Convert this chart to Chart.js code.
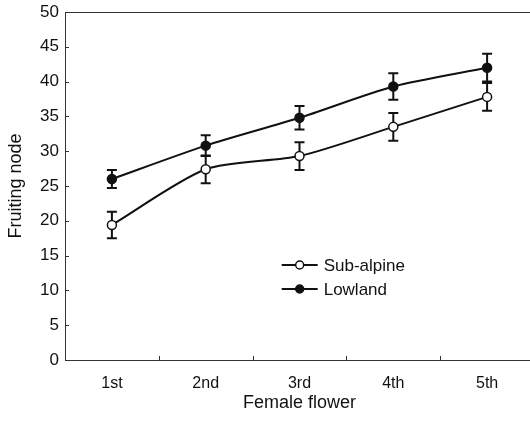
<!DOCTYPE html>
<html>
<head>
<meta charset="utf-8">
<script src="https://cdn.jsdelivr.net/npm/chart.js@4"></script>
<style>
html,body{margin:0;padding:0;background:#fff;overflow:hidden;}
#wrap{width:540px;height:422px;position:relative;}
</style>
</head>
<body>
<div id="wrap"><canvas id="c"></canvas></div>
<script>
const categories = ['1st', '2nd', '3rd', '4th', '5th'];
const subAlpine = [19.4, 27.4, 29.3, 33.5, 37.8];
const subAlpineErr = [1.9, 2.0, 2.0, 2.0, 2.0];
const lowland = [26.0, 30.8, 34.8, 39.3, 42.0];
const lowlandErr = [1.3, 1.5, 1.7, 1.9, 2.0];
const seriesNames = ['Sub-alpine', 'Lowland'];
const yMin = 0, yMax = 50, yStep = 5;
const xTitle = 'Female flower';
const yTitle = 'Fruiting node';

const FONT = '"Liberation Sans", Arial, sans-serif';
const INK = '#111';

const errorBars = {
  id: 'errorBars',
  beforeDatasetsDraw(chart) {
    const ctx = chart.ctx;
    const y = chart.scales.y;
    ctx.save();
    ctx.strokeStyle = INK;
    ctx.lineWidth = 2;
    chart.data.datasets.forEach((ds, di) => {
      const meta = chart.getDatasetMeta(di);
      meta.data.forEach((pt, i) => {
        const v = ds.data[i], e = ds.errors[i];
        const yt = y.getPixelForValue(v + e), yb = y.getPixelForValue(v - e);
        const x = pt.x, cw = 5;
        ctx.beginPath();
        ctx.moveTo(x, yt); ctx.lineTo(x, yb);
        ctx.moveTo(x - cw, yt); ctx.lineTo(x + cw, yt);
        ctx.moveTo(x - cw, yb); ctx.lineTo(x + cw, yb);
        ctx.stroke();
      });
    });
    ctx.restore();
  }
};

const frame = {
  id: 'frame',
  afterDraw(chart) {
    const ctx = chart.ctx, a = chart.chartArea;
    const y = chart.scales.y, x = chart.scales.x;
    ctx.save();
    ctx.strokeStyle = '#333';
    ctx.lineWidth = 1;
    ctx.beginPath();
    ctx.moveTo(a.left, a.top + 0.5); ctx.lineTo(a.right, a.top + 0.5);
    y.ticks.forEach(t => {
      const py = Math.round(y.getPixelForValue(t.value)) + 0.5;
      ctx.moveTo(a.left, py); ctx.lineTo(a.left + 4, py);
    });
    for (let i = 0; i < categories.length - 1; i++) {
      const px = Math.round((x.getPixelForValue(i) + x.getPixelForValue(i + 1)) / 2) + 0.5;
      ctx.moveTo(px, a.bottom); ctx.lineTo(px, a.bottom - 4);
    }
    ctx.stroke();

    const lx = a.left + 0.462 * (a.right - a.left);
    chart.data.datasets.forEach((ds, di) => {
      const ly = a.top + (0.727 + 0.069 * di) * (a.bottom - a.top);
      ctx.strokeStyle = INK;
      ctx.lineWidth = 2;
      ctx.beginPath();
      ctx.moveTo(lx, ly); ctx.lineTo(lx + 36, ly);
      ctx.stroke();
      ctx.beginPath();
      ctx.arc(lx + 18, ly, 4, 0, Math.PI * 2);
      ctx.fillStyle = ds.pointBackgroundColor;
      ctx.fill();
      ctx.lineWidth = 1.5;
      ctx.stroke();
      ctx.fillStyle = INK;
      ctx.font = '17px ' + FONT;
      ctx.textBaseline = 'middle';
      ctx.textAlign = 'left';
      ctx.fillText(ds.label, lx + 42, ly + 1);
    });
    ctx.restore();
  }
};

new Chart(document.getElementById('c'), {
  type: 'line',
  data: {
    labels: categories,
    datasets: [
      {
        label: seriesNames[0], data: subAlpine, errors: subAlpineErr,
        borderColor: INK, borderWidth: 2, tension: 0.25,
        pointRadius: 4.5, pointBackgroundColor: '#fff', pointBorderColor: INK, pointBorderWidth: 1.5
      },
      {
        label: seriesNames[1], data: lowland, errors: lowlandErr,
        borderColor: INK, borderWidth: 2, tension: 0.25,
        pointRadius: 4.5, pointBackgroundColor: INK, pointBorderColor: INK, pointBorderWidth: 1.5
      }
    ]
  },
  options: {
    responsive: true,
    maintainAspectRatio: false,
    animation: false,
    layout: { padding: { left: 0, right: 5, top: 12, bottom: 0 } },
    plugins: { legend: { display: false }, tooltip: { enabled: false } },
    scales: {
      x: {
        offset: true,
        grid: { display: true, drawOnChartArea: false, drawTicks: false, offset: true },
        border: { display: true, color: '#333', width: 1 },
        ticks: { color: INK, font: { family: FONT, size: 16 }, padding: 14, maxRotation: 0 },
        title: { display: true, text: xTitle, color: INK, font: { family: FONT, size: 18 }, padding: { top: 0, bottom: 8 } },
        afterFit(s) { s.height = 62; s.paddingLeft = 0; s.paddingRight = 0; }
      },
      y: {
        min: yMin, max: yMax,
        grid: { display: true, drawOnChartArea: false, drawTicks: false },
        border: { display: true, color: '#333', width: 1 },
        ticks: { stepSize: yStep, color: INK, font: { family: FONT, size: 17 }, padding: 6 },
        title: { display: true, text: yTitle, color: INK, font: { family: FONT, size: 18 }, padding: { top: 5, bottom: 0 } },
        afterFit(s) { s.width = 65; s.paddingTop = 0; s.paddingBottom = 0; }
      }
    }
  },
  plugins: [errorBars, frame]
});
</script>
</body>
</html>
